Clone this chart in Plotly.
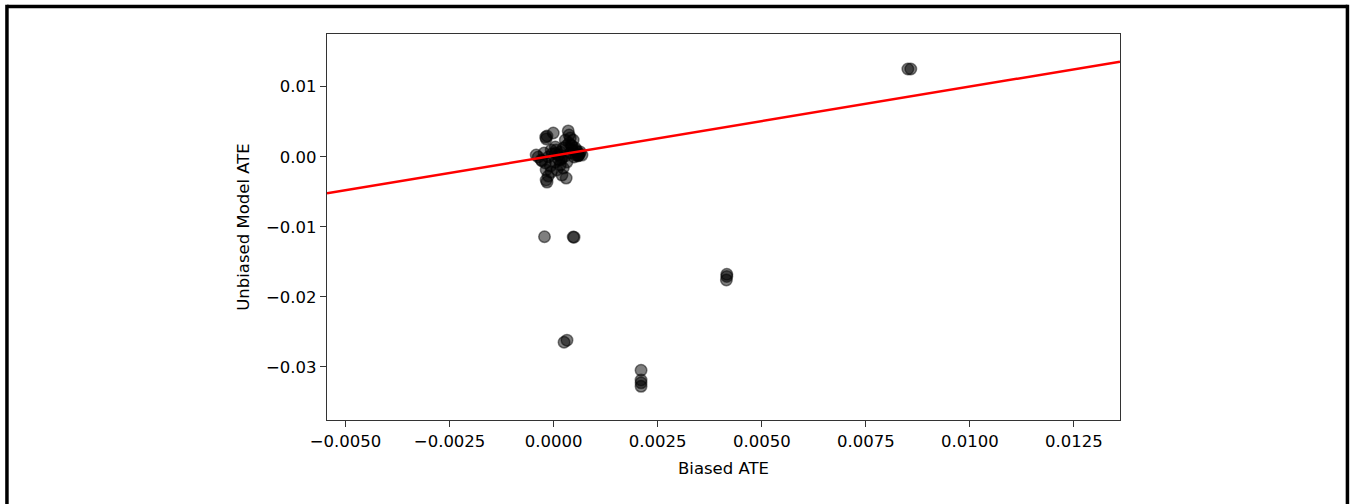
import plotly.graph_objects as go

# Data
biased_ate = [
    0.00851, 0.00858,
    0.00047, 0.00049, -0.00022,
    0.00032, 0.00025,
    0.00416, 0.00416, 0.00415,
    0.00210, 0.00210, 0.00210, 0.00210,
    -0.00037, -0.00030, -0.00020, -0.00013, -0.00004, 0.00006, 0.00016, 0.00023, 0.00030, 0.00037,
    0.00044, 0.00052, 0.00056, 0.00059, 0.00054, 0.00040, 0.00028, 0.00013, 0.00004, -0.00008,
    -0.00018, -0.00013, -0.00018, -0.00016, -0.00006, 0.00008, 0.00020, 0.00030, 0.00023, 0.00016,
    0.00032, 0.00044, 0.00047, 0.00035, 0.00040, -0.00016, -0.00018, -0.00001, -0.00023, -0.00042,
    0.00064, 0.00068, 0.00049, 0.00020, 0.00011, 0.00004, -0.00006, 0.00028, 0.00037, 0.00042,
    -0.00019, 0.00060, 0.00062, 0.00058, -0.00028, 0.00005, 0.00055, 0.00018,
]
unbiased_ate = [
    0.01253, 0.01253,
    -0.01147, -0.01150, -0.01143,
    -0.02620, -0.02650,
    -0.01680, -0.01710, -0.01760,
    -0.03050, -0.03190, -0.03230, -0.03280,
    -0.00004, -0.00047, -0.00090, -0.00004, 0.00039, 0.00096, 0.00067, 0.00124, 0.00153, 0.00196,
    0.00153, 0.00124, 0.00067, 0.00024, 0.00024, 0.00053, 0.00010, -0.00047, -0.00076, -0.00133,
    -0.00190, -0.00276, -0.00333, -0.00362, -0.00219, -0.00190, -0.00262, -0.00305, -0.00162, -0.00119,
    -0.00076, 0.00096, 0.00239, 0.00368, 0.00267, 0.00296, 0.00253, 0.00339, 0.00053, 0.00024,
    0.00067, 0.00024, -0.00004, -0.00019, 0.00024, 0.00139, 0.00096, 0.00239, 0.00310, 0.00167,
    0.00280, 0.00020, 0.00040, 0.00010, -0.00060, 0.00050, 0.00090, -0.00040,
]

# Fitted red line
line_slope = 0.987
line_intercept = 0.00015

x_range = [-0.005445, 0.013606]
y_range = [-0.03761, 0.01753]

x_ticks = [-0.005, -0.0025, 0.0, 0.0025, 0.005, 0.0075, 0.01, 0.0125]
y_ticks = [-0.03, -0.02, -0.01, 0.0, 0.01]

line_x = x_range
line_y = [line_slope * v + line_intercept for v in line_x]

fig = go.Figure()
fig.add_trace(go.Scatter(
    x=biased_ate, y=unbiased_ate, mode="markers",
    marker=dict(size=11.5, color="rgba(0,0,0,0.5)",
                line=dict(width=1.5, color="rgba(0,0,0,0.5)")),
    showlegend=False, hoverinfo="skip",
))
fig.add_trace(go.Scatter(
    x=line_x, y=line_y, mode="lines",
    line=dict(color="red", width=2.5),
    showlegend=False, hoverinfo="skip",
))

font = dict(family="DejaVu Sans", size=16.5, color="black")

fig.update_layout(
    width=1350, height=504,
    margin=dict(l=327, r=230, t=34, b=84, autoexpand=False),
    paper_bgcolor="white", plot_bgcolor="white",
    font=font,
    xaxis=dict(
        range=x_range, tickvals=x_ticks, tickformat=".4f",
        showgrid=False, zeroline=False,
        showline=True, mirror=True, linecolor="#333", linewidth=1.3,
        ticks="outside", ticklen=6, tickwidth=1.3, tickcolor="#333",
        title=dict(text="Biased ATE", font=font, standoff=12),
    ),
    yaxis=dict(
        range=y_range, tickvals=y_ticks, tickformat=".2f",
        showgrid=False, zeroline=False,
        showline=True, mirror=True, linecolor="#333", linewidth=1.3,
        ticks="outside", ticklen=6, tickwidth=1.3, tickcolor="#333",
        title=dict(text="Unbiased Model ATE", font=font, standoff=12),
    ),
    shapes=[
        dict(type="line", xref="paper", yref="paper", x0=-0.4036, x1=1.2868, y0=1.0712, y1=1.0712,
             line=dict(color="black", width=3.5)),
        dict(type="line", xref="paper", yref="paper", x0=-0.4036, x1=-0.4036, y0=1.0757, y1=-0.25,
             line=dict(color="black", width=3.5)),
        dict(type="line", xref="paper", yref="paper", x0=1.2868, x1=1.2868, y0=1.0757, y1=-0.25,
             line=dict(color="black", width=3.5)),
    ],
)

fig.write_html(
    "out.html",
    config={"displayModeBar": False},
    post_script="document.body.style.margin='0';document.body.style.overflow='hidden';",
)
